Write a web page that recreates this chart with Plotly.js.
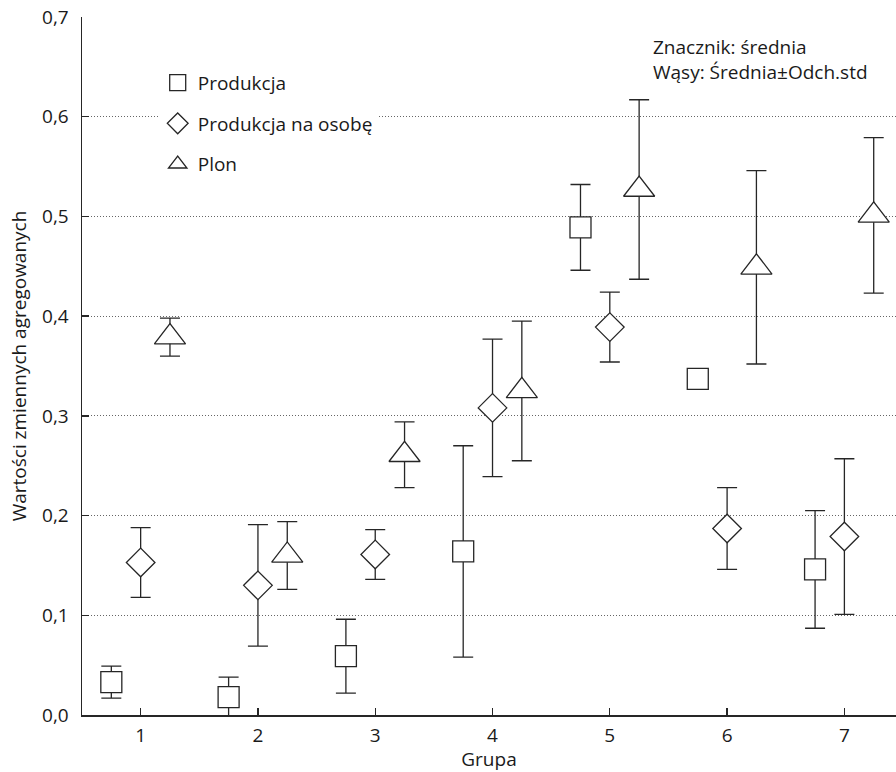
<!DOCTYPE html>
<html><head><meta charset="utf-8">
<script src="https://cdn.plot.ly/plotly-3.0.1.min.js"></script>
<style>html,body{margin:0;padding:0;background:#fff}#chart{width:896px;height:772px}</style>
</head><body><div id="chart"></div>
<script>
const groups = [1, 2, 3, 4, 5, 6, 7];
const seriesNames = ['Produkcja', 'Produkcja na osobę', 'Plon'];
const offsets = [-0.25, 0, 0.25];
// means and standard deviations
const produkcjaMean = [0.033, 0.018, 0.059, 0.164, 0.489, 0.337, 0.146];
const produkcjaSd   = [0.016, 0.020, 0.037, 0.106, 0.043, 0.006, 0.059];
const osobaMean = [0.153, 0.130, 0.161, 0.308, 0.389, 0.187, 0.179];
const osobaSd   = [0.035, 0.061, 0.025, 0.069, 0.035, 0.041, 0.078];
const plonMean = [0.379, 0.160, 0.261, 0.325, 0.527, 0.449, 0.501];
const plonSd   = [0.019, 0.034, 0.033, 0.070, 0.090, 0.097, 0.078];
const yTicks = [0, 0.1, 0.2, 0.3, 0.4, 0.5, 0.6, 0.7];

const means = [produkcjaMean, osobaMean, plonMean];
const sds = [produkcjaSd, osobaSd, plonSd];
const symbols = ['square', 'diamond', 'triangle-up'];
const sizes = [21, 22, 27];
const ink = '#262626';

const traces = seriesNames.map((name, i) => ({
  type: 'scatter', mode: 'markers', name: name, legendgroup: 'g' + i,
  x: groups.map(g => g + offsets[i]),
  y: means[i],
  error_y: {type: 'data', array: sds[i], visible: true, color: ink, thickness: 1.3, width: 10},
  marker: {symbol: symbols[i], size: sizes[i], color: '#ffffff', line: {color: ink, width: 1.3}},
  cliponaxis: false
}));

const font = 'Open Sans, Noto Sans, sans-serif';
const fs = 19;
const layout = {
  width: 896, height: 772,
  margin: {l: 82, r: 0, t: 17, b: 57},
  paper_bgcolor: '#fff', plot_bgcolor: '#fff',
  separators: ', ',
  font: {family: font, size: fs, color: '#1a1a1a'},
  showlegend: true,
  legend: {x: 0.093, y: 0.933, xanchor: 'left', yanchor: 'top', bgcolor: '#ffffff',
           font: {family: font, size: fs, color: '#1a1a1a'}, traceorder: 'grouped', tracegroupgap: 13,
           itemsizing: 'trace'},
  xaxis: {
    range: [0.5, 7.44], tickvals: groups, ticktext: groups.map(String),
    ticks: 'inside', ticklen: 7, tickcolor: ink, tickwidth: 1.3,
    showline: true, linecolor: ink, linewidth: 1.5, showgrid: false, zeroline: false,
    tickfont: {family: font, size: fs}, ticklabelstandoff: 3,
    title: {text: 'Grupa', font: {family: font, size: fs}, standoff: 4}
  },
  yaxis: {
    range: [0, 0.7], tickvals: yTicks, tickformat: '.1f',
    ticks: 'inside', ticklen: 7, tickcolor: ink, tickwidth: 1.3,
    showline: true, linecolor: ink, linewidth: 1.5,
    showgrid: true, gridcolor: '#666', griddash: '1px,2px', gridwidth: 1, zeroline: false,
    tickfont: {family: font, size: fs}, ticklabelstandoff: 8,
    title: {text: 'Wartości zmiennych agregowanych', font: {family: font, size: fs}, standoff: 10}
  },
  annotations: [{
    xref: 'paper', yref: 'paper', x: 0.699, y: 0.978, xanchor: 'left', yanchor: 'top', align: 'left',
    text: 'Znacznik: średnia<br>Wąsy: Średnia±Odch.std', showarrow: false,
    font: {family: font, size: fs, color: '#1a1a1a'}
  }]
};
Plotly.newPlot('chart', traces, layout, {displayModeBar: false, staticPlot: true});
</script></body></html>
